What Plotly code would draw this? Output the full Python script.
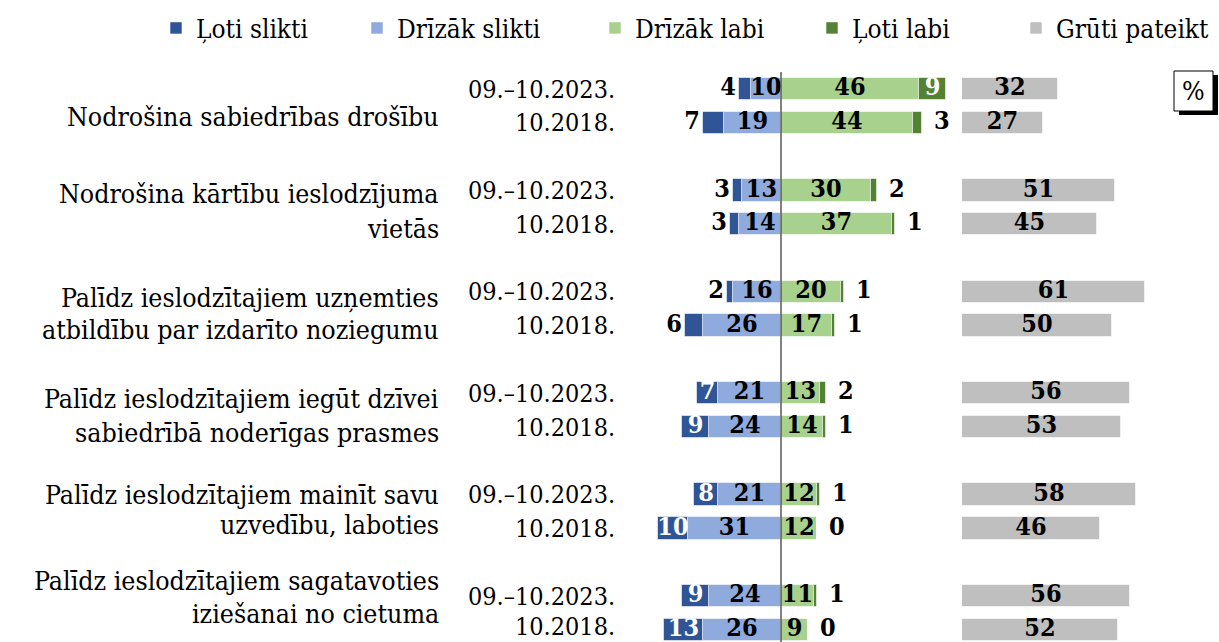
import plotly.graph_objects as go

# ---------------- data ----------------
categories = [
    "Nodrošina sabiedrības drošību",
    "Nodrošina kārtību ieslodzījuma\nvietās",
    "Palīdz ieslodzītajiem uzņemties\natbildību par izdarīto noziegumu",
    "Palīdz ieslodzītajiem iegūt dzīvei\nsabiedrībā noderīgas prasmes",
    "Palīdz ieslodzītajiem mainīt savu\nuzvedību, laboties",
    "Palīdz ieslodzītajiem sagatavoties\niziešanai no cietuma",
]
periods = ["09.–10.2023.", "10.2018."]
series_names = ["Ļoti slikti", "Drīzāk slikti", "Drīzāk labi", "Ļoti labi", "Grūti pateikt"]

loti_slikti_2023 = [4, 3, 2, 7, 8, 9]
loti_slikti_2018 = [7, 3, 6, 9, 10, 13]
drizak_slikti_2023 = [10, 13, 16, 21, 21, 24]
drizak_slikti_2018 = [19, 14, 26, 24, 31, 26]
drizak_labi_2023 = [46, 30, 20, 13, 12, 11]
drizak_labi_2018 = [44, 37, 17, 14, 12, 9]
loti_labi_2023 = [9, 2, 1, 2, 1, 1]
loti_labi_2018 = [3, 1, 1, 1, 0, 0]
gruti_2023 = [32, 51, 61, 56, 58, 56]
gruti_2018 = [27, 45, 50, 53, 46, 52]

# ---------------- styles ----------------
C_LS, C_DS, C_DL, C_LL, C_GP = "#2F5597", "#8FAADC", "#A9D18E", "#548235", "#BFBFBF"
FONT = "DejaVu Serif Condensed, Liberation Serif, serif"
CAT_SIZE = 26.5
PER_SIZE = 25
LEG_SIZE = 26
NUM_SIZE = 25
W, H = 1219, 642
# label placement style for the dark-blue segment (inside = white label in bar)
ls_inside_2023 = [False, False, False, True, True, True]
ls_inside_2018 = [False, False, False, True, True, True]
# legend symbol centres (px) for the five legend entries
legend_sym_px = [176, 377, 615, 832, 1036]


def interleave(a, b):
    out = []
    for u, v in zip(a, b):
        out += [u, v]
    return out


LS = interleave(loti_slikti_2023, loti_slikti_2018)
DS = interleave(drizak_slikti_2023, drizak_slikti_2018)
DL = interleave(drizak_labi_2023, drizak_labi_2018)
LL = interleave(loti_labi_2023, loti_labi_2018)
GP = interleave(gruti_2023, gruti_2018)
LS_IN = interleave(ls_inside_2023, ls_inside_2018)
Y = []
for i in range(len(categories)):
    Y += [3 * i, 3 * i + 1]

px_per_unit = 3.0
zero_px = 781
grey_px = 962
row0_px, row_px = 89, 33.8
bar_w = 0.66


def py(p):
    return 1 - p / H


def pxx(p):
    return p / W


fig = go.Figure()
line = dict(color="rgba(255,255,255,0.55)", width=1)

# negative side: first trace nearest zero
fig.add_trace(go.Bar(y=Y, x=[-v for v in DS], orientation="h", name=series_names[1], legend="legend2",
                     marker=dict(color=C_DS, line=line), width=bar_w, hoverinfo="skip"))
fig.add_trace(go.Bar(y=Y, x=[-v for v in LS], orientation="h", name=series_names[0], legend="legend",
                     marker=dict(color=C_LS, line=line), width=bar_w, hoverinfo="skip"))
fig.add_trace(go.Bar(y=Y, x=DL, orientation="h", name=series_names[2], legend="legend3",
                     marker=dict(color=C_DL, line=line), width=bar_w, hoverinfo="skip"))
fig.add_trace(go.Bar(y=Y, x=LL, orientation="h", name=series_names[3], legend="legend4",
                     marker=dict(color=C_LL, line=line), width=bar_w, hoverinfo="skip"))
fig.add_trace(go.Bar(y=Y, x=GP, orientation="h", name=series_names[4], legend="legend5",
                     xaxis="x2", yaxis="y",
                     marker=dict(color=C_GP, line=line), width=bar_w, hoverinfo="skip"))

numfont = dict(family=FONT, size=NUM_SIZE, color="black", weight="bold")
numfont_w = dict(family=FONT, size=NUM_SIZE, color="white", weight="bold")


def text_trace(xs, ys, texts, pos, font, xaxis="x"):
    return go.Scatter(x=xs, y=ys, text=texts, mode="text", textposition=pos,
                      textfont=font, showlegend=False, hoverinfo="skip", xaxis=xaxis, yaxis="y",
                      cliponaxis=False)


# Drīzāk slikti labels (centered)
fig.add_trace(text_trace([-d / 2 for d in DS], Y, [str(d) for d in DS], "middle center", numfont))
# Ļoti slikti labels
ins = [(y, l, d) for y, l, d, f in zip(Y, LS, DS, LS_IN) if f]
outs = [(y, l, d) for y, l, d, f in zip(Y, LS, DS, LS_IN) if not f]
fig.add_trace(text_trace([-(d + l / 2) for y, l, d in ins], [y for y, l, d in ins],
                         [str(l) for y, l, d in ins], "middle center", numfont_w))
fig.add_trace(text_trace([-(d + l) - 1 for y, l, d in outs], [y for y, l, d in outs],
                         [str(l) for y, l, d in outs], "middle left", numfont))
# Drīzāk labi labels
fig.add_trace(text_trace([d / 2 for d in DL], Y, [str(d) for d in DL], "middle center", numfont))
# Ļoti labi labels
ll_in = [(y, l, d) for y, l, d in zip(Y, LL, DL) if l >= 5]
ll_out = [(y, l, d) for y, l, d in zip(Y, LL, DL) if l < 5]
fig.add_trace(text_trace([d + l / 2 for y, l, d in ll_in], [y for y, l, d in ll_in],
                         [str(l) for y, l, d in ll_in], "middle center", numfont_w))
fig.add_trace(text_trace([d + l + 4 for y, l, d in ll_out], [y for y, l, d in ll_out],
                         [str(l) for y, l, d in ll_out], "middle right", numfont))
# Grūti pateikt labels
fig.add_trace(text_trace([g / 2 for g in GP], Y, [str(g) for g in GP], "middle center", numfont, xaxis="x2"))

annotations = []
perfont = dict(family=FONT, size=PER_SIZE, color="black")
catfont = dict(family=FONT, size=CAT_SIZE, color="black")
# period labels
for yv in Y:
    annotations.append(dict(x=pxx(617), xref="paper", y=yv, yref="y", text=periods[yv % 3],
                            xanchor="right", yanchor="middle", showarrow=False, font=perfont,
                            yshift=3 if yv == Y[-1] else 0))
# category labels (line centres in pixels)
line_px = [[117], [193, 228], [297, 330], [398, 432], [494, 524], [580, 613]]
for cat, lp in zip(categories, line_px):
    for txt, p in zip(cat.split("\n"), lp):
        annotations.append(dict(x=pxx(441), xref="paper", y=py(p), yref="paper", text=txt,
                                xanchor="right", yanchor="middle", showarrow=False, font=catfont))
# % box
annotations.append(dict(x=pxx(1193.5), y=py(91), xref="paper", yref="paper", text="%",
                        showarrow=False, font=dict(family=FONT, size=CAT_SIZE, color="black"),
                        xanchor="center", yanchor="middle"))

shapes = [
    dict(type="rect", xref="paper", yref="paper", x0=pxx(1179), x1=pxx(1218), y0=py(115), y1=py(75),
         fillcolor="black", line=dict(width=0), layer="above"),
    dict(type="rect", xref="paper", yref="paper", x0=pxx(1174), x1=pxx(1213), y0=py(111), y1=py(71),
         fillcolor="white", line=dict(color="black", width=1), layer="above"),
    dict(type="line", xref="x", yref="y", x0=0, x1=0, y0=-0.5, y1=(H - row0_px) / row_px,
         line=dict(color="#595959", width=1.5), layer="above"),
]

legends = {}
for k, sx in enumerate(legend_sym_px):
    key = "legend" if k == 0 else f"legend{k + 1}"
    legends[key] = dict(orientation="h", x=pxx(sx - 20), xanchor="left", y=py(28), yanchor="middle",
                        font=dict(family=FONT, size=LEG_SIZE, color="black"),
                        itemclick=False, itemdoubleclick=False, bgcolor="rgba(0,0,0,0)",
                        borderwidth=0)

fig.update_layout(
    width=W, height=H,
    margin=dict(l=0, r=0, t=0, b=0, autoexpand=False),
    paper_bgcolor="white", plot_bgcolor="white",
    barmode="relative", bargap=0,
    showlegend=True,
    xaxis=dict(range=[-zero_px / px_per_unit, (W - zero_px) / px_per_unit], visible=False,
               domain=[0, 1], fixedrange=True),
    xaxis2=dict(range=[0, (W - grey_px) / px_per_unit], visible=False,
                domain=[grey_px / W, 1], anchor="y", fixedrange=True),
    yaxis=dict(range=[(H - row0_px) / row_px, -row0_px / row_px], visible=False, fixedrange=True),
    annotations=annotations,
    shapes=shapes,
    **legends,
)

fig.write_html("out.html", config={"displayModeBar": False},
               post_script="document.body.style.margin='0';document.body.style.overflow='hidden';")
